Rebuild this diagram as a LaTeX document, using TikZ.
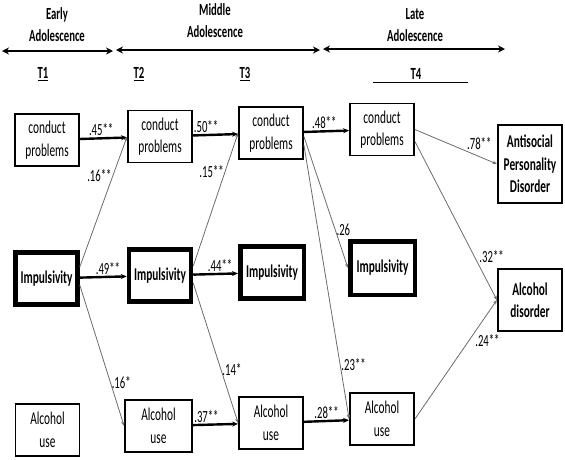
\documentclass[tikz,border=0pt]{standalone}
\usepackage{fontspec}
\setmainfont{Carlito}[FakeStretch=0.63]
\usetikzlibrary{arrows.meta, positioning}
\newcommand{\boxfont}{\fontsize{18}{22.5}\selectfont}
\newcommand{\coeffont}{\fontsize{17}{20}\selectfont}
\newcommand{\headfont}{\fontsize{17}{22}\selectfont\bfseries}

\begin{document}
\begin{tikzpicture}[
  x=1pt, y=-1pt,
  box/.style={rectangle, draw, line width=1.8pt, minimum width=64pt, minimum height=52pt, inner sep=1pt, align=center, font=\boxfont},
  impbox/.style={box, line width=4.5pt, minimum width=62pt, minimum height=52pt, font=\boxfont\bfseries},
  outbox/.style={box, line width=2.2pt, font=\boxfont\bfseries},
  head/.style={align=center, font=\headfont, inner sep=0pt},
  span/.style={{Stealth[length=7pt,width=7pt]}-{Stealth[length=7pt,width=7pt]}, line width=2.4pt},
  strong/.style={-{Stealth[length=6pt,width=5pt]}, line width=2.4pt},
  weak/.style={-{Stealth[length=4.5pt,width=3.5pt]}, line width=0.8pt, draw=gray!85!black},
  coef/.style={font=\coeffont, inner sep=1pt}
]
  \useasboundingbox (0,0) rectangle (565,459);

  % Periods
  \node[head] (early) at (57,25) {Early\\Adolescence};
  \node[head] (middle) at (215,21) {Middle\\Adolescence};
  \node[head] (late) at (415,25) {Late\\Adolescence};
  \coordinate (e1) at (2,51);   \coordinate (e2) at (113,51);
  \coordinate (m1) at (116,50); \coordinate (m2) at (320,50);
  \coordinate (l1) at (323,49); \coordinate (l2) at (505,49);
  \draw[span] (e1) -- (e2);
  \draw[span] (m1) -- (m2);
  \draw[span] (l1) -- (l2);

  % Waves
  \node[head] (t1) at (43,74) {\underline{T1}};
  \node[head] (t2) at (139,74) {\underline{T2}};
  \node[head] (t3) at (245,74) {\underline{T3}};
  \node[head] (t4) at (416,74) {T4};
  \coordinate (r1) at (373,82.5); \coordinate (r2) at (468,82.5);
  \draw[line width=0.9pt] (r1) -- (r2);

  % Conduct problems
  \node[box] (cp1) at (47,140) {conduct\\problems};
  \node[box] (cp2) at (160,136.5) {conduct\\problems};
  \node[box] (cp3) at (271,133) {conduct\\problems};
  \node[box] (cp4) at (382,129.5) {conduct\\problems};
  \node[outbox, minimum height=78pt] (apd) at (530,164) {Antisocial\\Personality\\Disorder};

  % Impulsivity
  \node[impbox] (imp1) at (46.5,278.5) {Impulsivity};
  \node[impbox] (imp2) at (160,275.5) {Impulsivity};
  \node[impbox, minimum width=63.5pt] (imp3) at (272,272.5) {Impulsivity};
  \node[impbox, minimum width=64.5pt, minimum height=53.5pt] (imp4) at (382.5,268) {Impulsivity};
  \node[outbox, minimum height=62pt] (ad) at (530,300) {Alcohol\\disorder};

  % Alcohol use
  \node[box] (au1) at (47.5,430) {Alcohol\\use};
  \node[box, minimum width=67pt] (au2) at (158.5,426) {Alcohol\\use};
  \node[box] (au3) at (271,423) {Alcohol\\use};
  \node[box] (au4) at (382,419) {Alcohol\\use};

  % Stability paths
  \draw[strong] (cp1) -- node[coef, pos=0.45, above] {.45**} (cp2);
  \draw[strong] (cp2) -- node[coef, pos=0.29, above] {.50**} (cp3);
  \draw[strong] (cp3) -- node[coef, pos=0.45, above] {.48**} (cp4);
  \draw[strong] (imp1) -- node[coef, pos=0.6, above] {.49**} (imp2);
  \draw[strong] (imp2) -- node[coef, pos=0.6, above] {.44**} (imp3);
  \draw[strong] (au2) -- node[coef, pos=0.3, above] {.37**} (au3);
  \draw[strong] (au3) -- node[coef, pos=0.5, above] {.28**} (au4);

  % Cross paths
  \draw[weak] (imp1.19) -- node[coef, pos=0.7, left] {.16**} (cp2.west);
  \draw[weak] (imp1.-11) -- node[coef, pos=0.69, right] {.16*} (au2.west);
  \draw[weak] (imp2.16) -- node[coef, pos=0.71, left] {.15**} (cp3.west);
  \draw[weak] (imp2.-13) -- node[coef, pos=0.62, right] {.14*} (au3.west);
  \draw[weak] (cp3.-6) -- node[coef, pos=0.71, right] {.26} (imp4.west);
  \draw[weak] (cp3.-20) -- node[coef, pos=0.8, right] {.23**} (au4.west);
  \draw[weak] (cp4.east) -- node[coef, pos=0.62, anchor=south west] {.78**} (apd.west);
  \draw[weak] (cp4.-20) -- node[coef, pos=0.77, anchor=south west] {.32**} (ad.west);
  \draw[weak] (au4.east) -- node[coef, pos=0.72, anchor=north west] {.24**} (ad.west);
\end{tikzpicture}
\end{document}
